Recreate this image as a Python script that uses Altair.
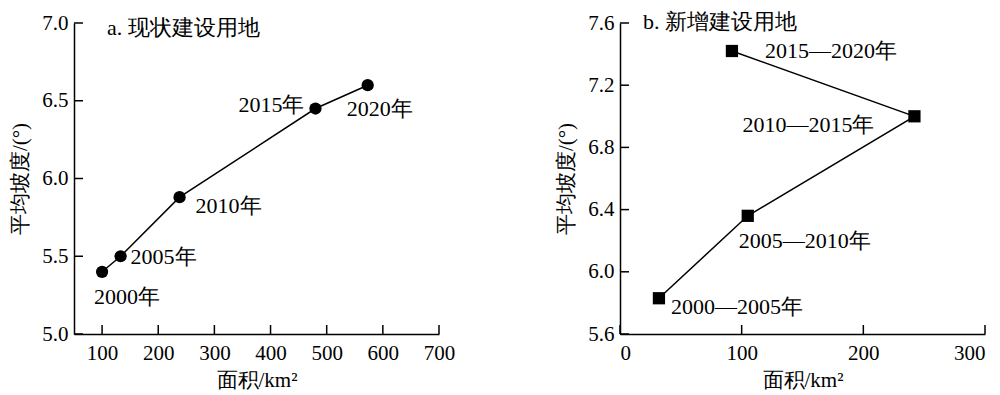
import altair as alt
import pandas as pd

# ---- data: panel a (现状建设用地) ----
a_labels = ["2000年", "2005年", "2010年", "2015年", "2020年"]
a_area = [100, 133, 238, 480, 573]
a_slope = [5.40, 5.50, 5.88, 6.45, 6.60]

# ---- data: panel b (新增建设用地) ----
b_labels = ["2000—2005年", "2005—2010年", "2010—2015年", "2015—2020年"]
b_area = [32, 105, 242, 92]
b_slope = [5.83, 6.36, 7.00, 7.42]

a_xticks = [100, 200, 300, 400, 500, 600, 700]
a_yticks = [5.0, 5.5, 6.0, 6.5, 7.0]
b_xticks = [0, 100, 200, 300]
b_yticks = [5.6, 6.0, 6.4, 6.8, 7.2, 7.6]

FONT = "Liberation Serif"
W, H = 365, 311
TICK = 9

# label offsets (style): (align, dx, dy)
a_off = {
    "2000年": ("left", -8, 25),
    "2005年": ("left", 10, 1),
    "2010年": ("left", 16, 9),
    "2015年": ("right", -11, -4),
    "2020年": ("left", -21, 24),
}
b_off = {
    "2000—2005年": ("left", 12, 9),
    "2005—2010年": ("left", -9, 25),
    "2010—2015年": ("right", -40, 9),
    "2015—2020年": ("left", 33, 0),
}


def panel(labels, xs, ys, xdom, ydom, xticks, yticks, shape, size, title, title_x, title_y, offsets, flush):
    df = pd.DataFrame({"label": labels, "x": xs, "y": ys, "order": list(range(len(labels)))})
    xsc = alt.Scale(domain=xdom, nice=False, zero=False)
    ysc = alt.Scale(domain=ydom, nice=False, zero=False)
    base = alt.Chart(df)
    xenc = alt.X("x:Q", scale=xsc, title="面积/km²",
                 axis=alt.Axis(values=xticks, ticks=False, labelPadding=8, titlePadding=6,
                               format="d", labelFlush=flush))
    yenc = alt.Y("y:Q", scale=ysc, title="平均坡度/(°)",
                 axis=alt.Axis(values=yticks, ticks=False, labelPadding=6, titlePadding=11,
                               format=".1f", labelFlush=False))
    line = base.mark_line(color="black", strokeWidth=1.5).encode(x=xenc, y=yenc, order="order:Q")
    pts = base.mark_point(shape=shape, filled=True, color="black", opacity=1, size=size).encode(x="x:Q", y="y:Q")
    layers = [line, pts]
    for lab in labels:
        al, dx, dy = offsets[lab]
        layers.append(
            base.transform_filter(alt.datum.label == lab)
            .mark_text(align=al, baseline="middle", dx=dx, dy=dy, font=FONT, fontSize=22, color="black")
            .encode(x="x:Q", y="y:Q", text="label:N")
        )
    xt = alt.Chart(pd.DataFrame({"x": xticks})).mark_rule(color="black", strokeWidth=1.5).encode(
        x="x:Q", y=alt.value(H), y2=alt.value(H - TICK))
    yt = alt.Chart(pd.DataFrame({"y": yticks})).mark_rule(color="black", strokeWidth=1.5).encode(
        y="y:Q", x=alt.value(0), x2=alt.value(TICK))
    ttl = alt.Chart(pd.DataFrame({"t": [title]})).mark_text(
        align="left", baseline="middle", font=FONT, fontSize=22, color="black"
    ).encode(x=alt.value(title_x), y=alt.value(title_y), text="t:N")
    return alt.layer(*layers, xt, yt, ttl).properties(width=W, height=H)


left = panel(a_labels, a_area, a_slope, [50, 700], [5.0, 7.0], a_xticks, a_yticks,
             "circle", 150, "a. 现状建设用地", 33, 5, a_off, False)
right = panel(b_labels, b_area, b_slope, [0, 300], [5.6, 7.6], b_xticks, b_yticks,
              "square", 150, "b. 新增建设用地", 23, -1, b_off, True)

chart = alt.hconcat(left, right, spacing=100).properties(
    padding={"left": 1, "top": 3, "right": 0, "bottom": 0}
).configure_view(
    stroke=None
).configure_axis(
    grid=False,
    domainColor="black",
    domainWidth=1.5,
    labelFont=FONT,
    labelFontSize=21,
    labelColor="black",
    titleFont=FONT,
    titleFontSize=21,
    titleFontWeight="normal",
    titleColor="black",
)

chart.save("out.html", embed_options={"renderer": "svg", "actions": False})
